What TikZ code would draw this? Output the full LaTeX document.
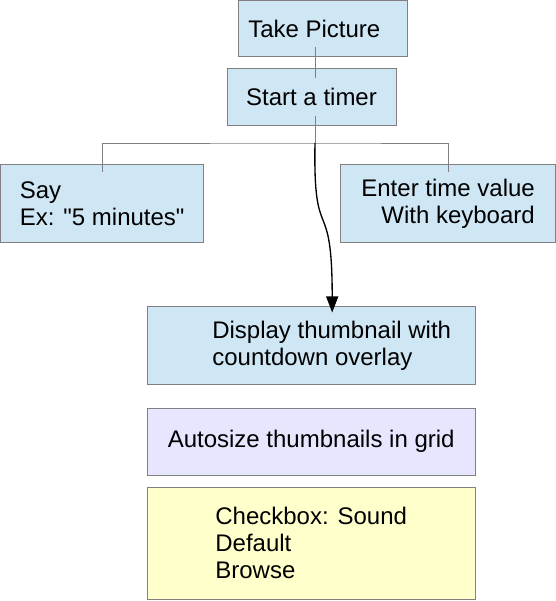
\documentclass[tikz,border=0pt]{standalone}
\usepackage{fontspec}
\setmainfont{Liberation Sans}[Ligatures=TeXOff]
\usetikzlibrary{arrows.meta, positioning, calc}
\definecolor{paleblue}{HTML}{CFE7F5}
\definecolor{lavender}{HTML}{E6E6FF}
\definecolor{paleyellow}{HTML}{FFFFCC}
\definecolor{rim}{HTML}{808080}

\begin{document}
\begin{tikzpicture}[x=0.75pt, y=-0.75pt, >={Triangle[length=12pt, width=9pt]},
    font=\fontsize{18pt}{20.25pt}\selectfont,
    card/.style={draw=rim, line width=0.75pt, fill=#1, inner sep=0pt},
    card/.default=paleblue,
    link/.style={draw=rim, line width=0.75pt}]
  \useasboundingbox (0,0) rectangle (556,601);
  \node (take)  [card, minimum width=126.75pt, minimum height=42.2pt] at (322.8,28.6) {Take Picture\hspace*{12.75pt}};
  \node (timer) [card, minimum width=126.75pt, minimum height=42.5pt] at (311.5,96.7) {Start a timer};
  \node (say)   [card, minimum width=152.6pt, minimum height=58.8pt, align=left] at (102.2,203.5) {Say\\Ex: "5 minutes"};
  \node (enter) [card, minimum width=161.1pt, minimum height=58.8pt, align=right] at (448.1,203.5) {Enter time value\\With keyboard};
  \node (disp)  [card, minimum width=245.8pt, minimum height=58.7pt, align=left] at (311.2,345.8) {\hspace*{30.75pt}Display thumbnail with\\\hspace*{30.75pt}countdown overlay};
  \node (auto)  [card=lavender, minimum width=245.8pt, minimum height=50pt, below=16.8pt of disp] {Autosize thumbnails in grid};
  \node (check) [card=paleyellow, minimum width=245.8pt, minimum height=84pt, align=left] at (311.2,543.4) {Checkbox: Sound\\Default\\Browse};
  \coordinate (fork) at (315,143);
  \draw[link] ($(take.south -| fork)+(0,-10)$) -- ($(timer.north -| fork)+(0,9.7)$);
  \draw[link] ($(timer.south -| fork)+(0,-10)$) -- (fork);
  \draw[link] ($(say.north)+(0,8.4)$) |- (fork) -| ($(enter.north)+(0,8.4)$);
  \draw[->, line width=1pt] (fork) .. controls +(-2,107) and +(0,-123) .. ($(disp.north)+(21,6.3)$);
\end{tikzpicture}
\end{document}
